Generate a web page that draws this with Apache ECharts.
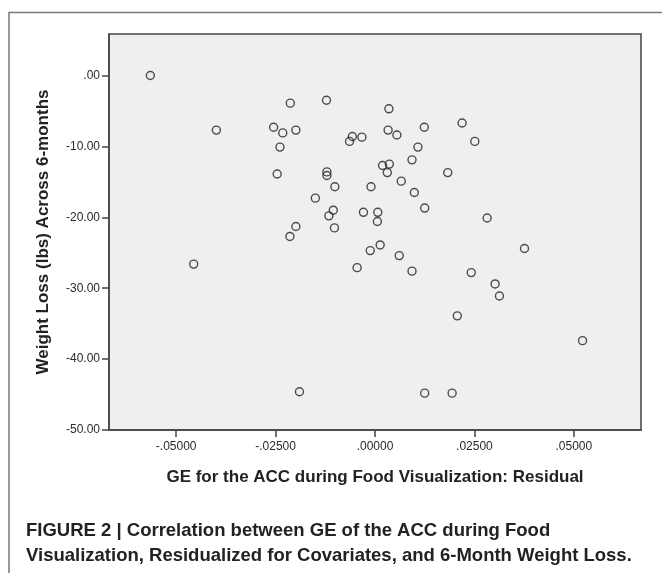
<!DOCTYPE html>
<html>
<head>
<meta charset="utf-8">
<script src="https://cdn.jsdelivr.net/npm/echarts@6/dist/echarts.min.js"></script>
<style>
  html, body { margin: 0; padding: 0; background: #fff; }
  #chart { width: 662px; height: 573px; }
</style>
</head>
<body>
<div id="chart"></div>
<script>
// GE residual (x) and weight loss over 6 months (y)
var geResidual = [
  -0.0565, -0.0213, -0.0122, 0.0035, -0.0399, -0.0255, -0.0232, -0.0199,
  -0.0057, -0.0064, -0.0033, 0.0033, 0.0055, 0.0124, 0.0219, 0.0251,
  -0.0239, 0.0108, 0.0093, 0.0019, 0.0036, 0.0031, -0.0246, -0.0121,
  -0.0121, 0.0183, 0.0066, -0.0101, -0.0010, 0.0099, -0.0150, 0.0125,
  -0.0105, -0.0116, -0.0029, 0.0007, 0.0006, 0.0282, -0.0199, -0.0102,
  -0.0214, 0.0013, -0.0012, 0.0376, 0.0061, -0.0456, -0.0045, 0.0093,
  0.0242, 0.0302, 0.0313, 0.0207, 0.0522, -0.0190, 0.0125, 0.0194
];
var weightLoss = [
  0.0, -3.9, -3.5, -4.7, -7.7, -7.3, -8.1, -7.7,
  -8.6, -9.3, -8.7, -7.7, -8.4, -7.3, -6.7, -9.3,
  -10.1, -10.1, -11.9, -12.7, -12.5, -13.7, -13.9, -13.6,
  -14.1, -13.7, -14.9, -15.7, -15.7, -16.5, -17.3, -18.7,
  -19.0, -19.8, -19.3, -19.3, -20.6, -20.1, -21.3, -21.5,
  -22.7, -23.9, -24.7, -24.4, -25.4, -26.6, -27.1, -27.6,
  -27.8, -29.4, -31.1, -33.9, -37.4, -44.6, -44.8, -44.8
];
var xTicks = [-0.05, -0.025, 0, 0.025, 0.05];
var yTicks = [-50, -40, -30, -20, -10, 0];

var points = geResidual.map(function (x, i) { return [x, weightLoss[i]]; });

// SPSS style numbers: no leading zero
function spssNum(v, d) {
  var s = Math.abs(v).toFixed(d).replace(/^0\./, '.');
  return (v < 0 ? '-' : '') + s;
}

var chart = echarts.init(document.getElementById('chart'));
chart.setOption({
  animation: false,
  textStyle: { fontFamily: 'Liberation Sans, Arial, sans-serif' },
  grid: {
    left: 109, top: 34, width: 532, height: 396,
    show: true, backgroundColor: '#efefef', borderColor: '#444', borderWidth: 1.5
  },
  title: {
    text: '{b|FIGURE 2 | Correlation between GE of the ACC during Food}\n{b|Visualization, Residualized for Covariates, and 6-Month Weight Loss}{n|.}',
    left: 26, top: 518, padding: 0,
    textStyle: {
      rich: {
        b: { fontSize: 18.5, fontWeight: 'bold', color: '#222', lineHeight: 25.5, fontFamily: 'Liberation Sans' },
        n: { fontSize: 18.5, color: '#222', lineHeight: 25.5, fontFamily: 'Liberation Sans' }
      }
    }
  },
  graphic: [{
    type: 'polyline',
    shape: { points: [[9, 600], [9, 12.5], [680, 12.5]] },
    style: { stroke: '#777', lineWidth: 1.5, fill: null },
    silent: true
  }],
  xAxis: {
    type: 'value',
    min: -0.0669, max: 0.0669,
    name: 'GE for the ACC during Food Visualization: Residual',
    nameLocation: 'middle', nameGap: 39,
    nameTextStyle: { fontSize: 17, fontWeight: 'bold', color: '#222' },
    axisLine: { show: true, onZero: false, lineStyle: { color: '#444', width: 1.5 } },
    axisTick: { show: true, length: 7, customValues: xTicks, lineStyle: { color: '#444', width: 1.5 } },
    axisLabel: { customValues: xTicks, fontSize: 12, color: '#2a2a2a', margin: 11,
      formatter: function (v) { return spssNum(v, 5); } },
    splitLine: { show: false }
  },
  yAxis: {
    type: 'value',
    min: -50, max: 5.85,
    name: 'Weight Loss (lbs) Across 6-months',
    nameLocation: 'middle', nameGap: 57, nameRotate: 90,
    nameTextStyle: { fontSize: 17, fontWeight: 'bold', color: '#222' },
    axisLine: { show: true, onZero: false, lineStyle: { color: '#444', width: 1.5 } },
    axisTick: { show: true, length: 7, customValues: yTicks, lineStyle: { color: '#444', width: 1.5 } },
    axisLabel: { customValues: yTicks, fontSize: 12, color: '#2a2a2a', margin: 9,
      formatter: function (v) { return spssNum(v, 2); } },
    splitLine: { show: false }
  },
  series: [{
    type: 'scatter',
    data: points,
    symbol: 'circle',
    symbolSize: 8,
    itemStyle: { color: 'transparent', borderColor: '#222', borderWidth: 1.4 }
  }]
});
</script>
</body>
</html>
